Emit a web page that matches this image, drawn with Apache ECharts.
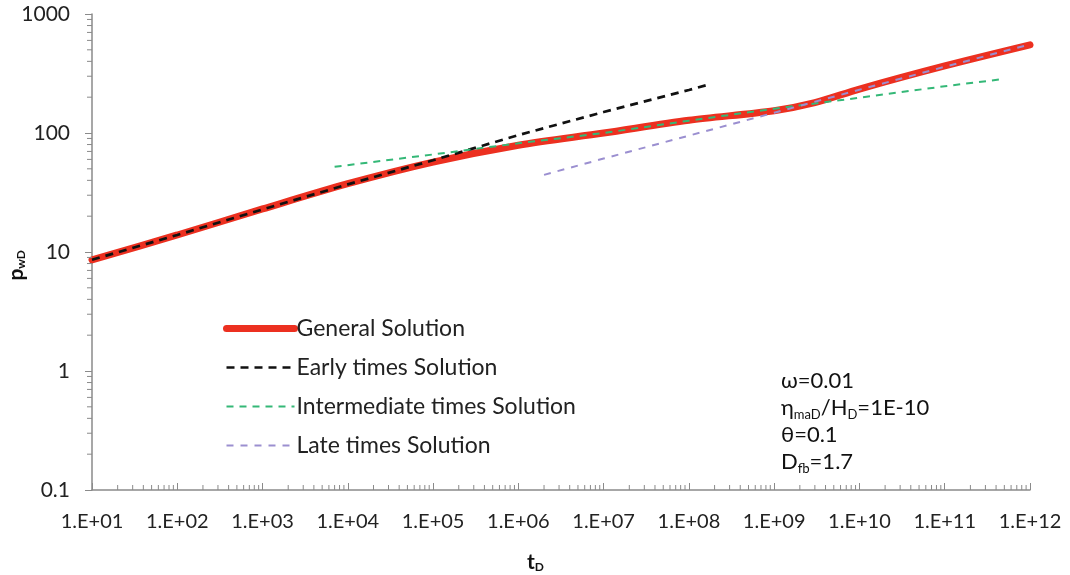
<!DOCTYPE html>
<html>
<head>
<meta charset="utf-8">
<script src="https://cdn.jsdelivr.net/npm/echarts@6/dist/echarts.min.js"></script>
<style>
  html, body { margin: 0; padding: 0; background: #fff; }
  #main { width: 1070px; height: 575px; }
</style>
</head>
<body>
<div id="main"></div>
<script>
// 数据
var seriesNames = ['General Solution', 'Early times Solution', 'Intermediate times Solution', 'Late times Solution'];

var tGeneral = [1e1, 1e2, 1e3, 1e4, 1e5, 1e6, 1e7, 1e8, 1e9, 3e9, 1e10, 1e11, 1e12];
var pGeneral = [8.6, 13.9, 23, 37.5, 57, 79, 100, 128, 154, 180, 234, 366, 550];

var tEarly = [1e1, 1e2, 1e3, 1e4, 1e5, 1e6, 1e7, 1e8, 1.7e8];
var pEarly = [8.6, 13.9, 22.8, 37, 59, 96, 150, 230, 255];

var tInter = [7e3, 1e5, 1e6, 1e7, 1e8, 1e9, 1e10, 1e11, 4.8e11];
var pInter = [52, 66, 82, 100, 127, 160, 198, 247, 284];

var tLate = [2e6, 1e7, 1e8, 1e9, 1e10, 1e11, 9e11];
var pLate = [44.5, 61, 95, 148, 231, 360, 545];

// 刻度
var xDecades = [1e1, 1e2, 1e3, 1e4, 1e5, 1e6, 1e7, 1e8, 1e9, 1e10, 1e11];
var yDecades = [0.1, 1, 10, 100];
var minorSteps = [2, 3, 4, 5, 6, 7, 8, 9];

var xMin = 10, xMax = 1e12, yMin = 0.1, yMax = 1000;

var pairs = function (xs, ys) {
    return xs.map(function (x, i) { return [x, ys[i]]; });
};

var minorOf = function (decades) {
    var out = [];
    decades.forEach(function (d) {
        minorSteps.forEach(function (s) { out.push(+(d * s).toPrecision(6)); });
    });
    return out;
};

var font = 'Lato, "Open Sans", sans-serif';
var axisGrey = '#8a8a8a';

var myChart = echarts.init(document.getElementById('main'));

var option = {
    animation: false,
    grid: { left: 92, right: 40, top: 14, bottom: 85 },
    xAxis: {
        type: 'log',
        min: xMin,
        max: xMax,
        logBase: 10,
        interval: 1,
        axisLine: { lineStyle: { color: axisGrey, width: 1.5 } },
        axisTick: { inside: true, length: 7, lineStyle: { color: axisGrey } },
        splitLine: { show: false },
        axisLabel: {
            margin: 22,
            interval: 0,
            fontSize: 20,
            fontFamily: font,
            color: '#222',
            formatter: function (v) {
                var e = Math.round(Math.log10(v));
                return '1.E+' + (e < 10 ? '0' + e : e);
            }
        }
    },
    yAxis: {
        type: 'log',
        min: yMin,
        max: yMax,
        logBase: 10,
        interval: 1,
        axisLine: { show: true, lineStyle: { color: axisGrey, width: 1.5 } },
        axisTick: { show: true, length: 7, lineStyle: { color: axisGrey } },
        splitLine: { show: false },
        axisLabel: {
            margin: 22,
            fontSize: 21,
            fontFamily: font,
            color: '#222',
            formatter: function (v) { return String(v); }
        }
    },
    legend: {
        orient: 'vertical',
        left: 218,
        top: 312,
        itemWidth: 68,
        itemHeight: 16,
        itemGap: 16,
        itemStyle: { opacity: 0 },
        textStyle: { fontSize: 23, fontFamily: font, color: '#222', padding: [0, 0, 0, -3] },
        data: [
            { name: seriesNames[0], lineStyle: { width: 7, cap: 'round' } },
            { name: seriesNames[1], lineStyle: { width: 2.7 } },
            { name: seriesNames[2], lineStyle: { width: 2 } },
            { name: seriesNames[3], lineStyle: { width: 2 } }
        ]
    },
    graphic: [
        {
            type: 'text', left: 6, top: 250, rotation: Math.PI / 2,
            style: {
                text: '{b|p}{s|wD}',
                rich: {
                    b: { fontSize: 21, fontWeight: 'bold', fontFamily: font, fill: '#111' },
                    s: { fontSize: 12, fontWeight: 'bold', fontFamily: font, fill: '#111', verticalAlign: 'bottom' }
                }
            }
        },
        {
            type: 'text', left: 527, top: 552,
            style: {
                text: '{b|t}{s|D}',
                rich: {
                    b: { fontSize: 21, fontWeight: 'bold', fontFamily: font, fill: '#111' },
                    s: { fontSize: 12, fontWeight: 'bold', fontFamily: font, fill: '#111', verticalAlign: 'bottom' }
                }
            }
        },
        {
            type: 'text', left: 781, top: 370,
            style: {
                text: '{n|ω=0.01}\n{n|η}{s|maD}{n|/H}{s|D}{n|=1E-10}\n{n|θ=0.1}\n{n|D}{s|fb}{n|=1.7}',
                rich: {
                    n: { fontSize: 22, fontFamily: font, fill: '#111', lineHeight: 27 },
                    s: { fontSize: 13, fontFamily: font, fill: '#111', lineHeight: 27, verticalAlign: 'bottom' }
                }
            }
        }
    ],
    series: [
        {
            name: seriesNames[0],
            type: 'line',
            symbol: 'none',
            smooth: 0.3,
            data: pairs(tGeneral, pGeneral),
            lineStyle: { color: '#ec3020', width: 7, cap: 'round' },
            itemStyle: { color: '#ec3020' },
            z: 2
        },
        {
            name: seriesNames[1],
            type: 'line',
            symbol: 'none',
            data: pairs(tEarly, pEarly),
            lineStyle: { color: '#111111', width: 2.7, type: [8, 6] },
            itemStyle: { color: '#111111' },
            z: 3
        },
        {
            name: seriesNames[2],
            type: 'line',
            symbol: 'none',
            data: pairs(tInter, pInter),
            lineStyle: { color: '#34b877', width: 2, type: [7, 6] },
            itemStyle: { color: '#34b877' },
            z: 4
        },
        {
            name: seriesNames[3],
            type: 'line',
            symbol: 'none',
            data: pairs(tLate, pLate),
            lineStyle: { color: '#9b8fd0', width: 2, type: [7, 7] },
            itemStyle: { color: '#9b8fd0' },
            z: 5
        },
        {
            // x 轴次刻度
            type: 'custom',
            silent: true,
            data: minorOf(xDecades).map(function (v) { return [v, yMin]; }),
            renderItem: function (params, api) {
                var p = api.coord([api.value(0), api.value(1)]);
                return {
                    type: 'line',
                    shape: { x1: p[0], y1: p[1], x2: p[0], y2: p[1] - 5 },
                    style: { stroke: axisGrey, lineWidth: 1 }
                };
            },
            z: 1
        },
        {
            // y 轴次刻度
            type: 'custom',
            silent: true,
            clip: false,
            data: minorOf(yDecades).map(function (v) { return [xMax, v]; }),
            renderItem: function (params, api) {
                var p = api.coord([xMin, api.value(1)]);
                return {
                    type: 'line',
                    shape: { x1: p[0] - 5, y1: p[1], x2: p[0], y2: p[1] },
                    style: { stroke: axisGrey, lineWidth: 1 }
                };
            },
            z: 10
        }
    ]
};

myChart.setOption(option);
</script>
</body>
</html>
